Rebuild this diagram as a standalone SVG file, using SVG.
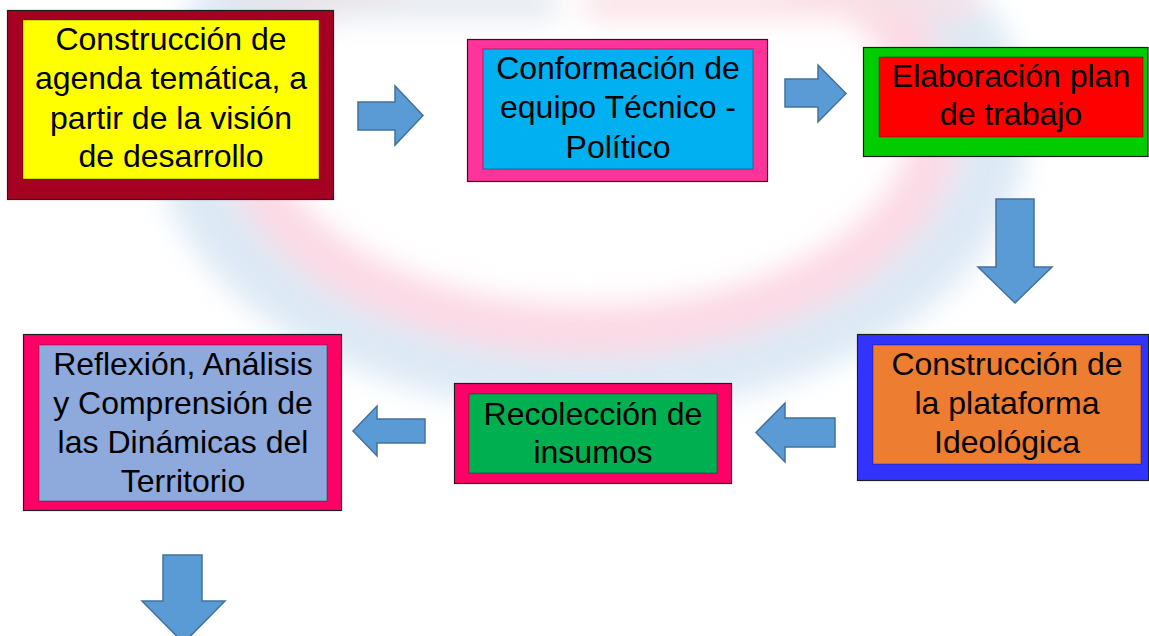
<svg xmlns="http://www.w3.org/2000/svg" width="1149" height="636" viewBox="0 0 1149 636">
<defs>
<filter id="soft" x="-20%" y="-20%" width="140%" height="140%"><feGaussianBlur stdDeviation="14"/></filter>
</defs>
<style>
.outer{stroke:#1e1e1e;stroke-width:1.2}
.inner{stroke-width:1;stroke-opacity:0.35;stroke:#000}
.lbl{font-family:"Liberation Sans",Arial,sans-serif;font-size:32px;fill:#000;text-anchor:middle}
.arrow{fill:#5B9BD5;stroke:#41719C;stroke-width:1.5;stroke-linejoin:miter}
</style>
<rect width="1149" height="636" fill="#ffffff"/>
<g id="watermark" opacity="0.4" filter="url(#soft)">
<ellipse cx="590" cy="125" rx="405" ry="255" fill="none" stroke="#a9c9e6" stroke-width="65"/>
<ellipse cx="590" cy="125" rx="345" ry="205" fill="none" stroke="#f7a3bd" stroke-width="50"/>
<rect x="212" y="-10" width="344" height="28" fill="#b8c2d2"/>
<rect x="585" y="-10" width="392" height="28" fill="#f0b0c0"/>
</g>
<g id="connectors">
<polygon class="arrow" points="358,102 395,102 395,86 423,115.5 395,145 395,130 358,130"/>
<polygon class="arrow" points="785,79 818,79 818,65 846,93.5 818,122 818,107 785,107"/>
<polygon class="arrow" points="996,199 1034,199 1034,267 1052,267 1015,303 978,267 996,267"/>
<polygon class="arrow" points="835,418 785,418 785,403 756,432.5 785,462 785,447 835,447"/>
<polygon class="arrow" points="425,419 377,419 377,406 353,431 377,456 377,443 425,443"/>
<polygon class="arrow" points="163,555 202,555 202,601 225,601 183.5,643 142,601 163,601"/>
</g>
<g id="node1">
<rect class="outer" x="7.5" y="10.5" width="326" height="189" fill="#A50021"/>
<rect class="inner" x="23" y="20" width="296" height="159" fill="#FFFF00"/>
<text class="lbl" x="171" y="50">Construcción de</text>
<text class="lbl" x="171" y="89">agenda temática, a</text>
<text class="lbl" x="171" y="128.5">partir de la visión</text>
<text class="lbl" x="171" y="167">de desarrollo</text>
</g>
<g id="node2">
<rect class="outer" x="467.5" y="39.5" width="300" height="142" fill="#FF3399"/>
<rect class="inner" x="483" y="49" width="270" height="120" fill="#00B0F0"/>
<text class="lbl" x="618" y="79">Conformación de</text>
<text class="lbl" x="618" y="118">equipo Técnico -</text>
<text class="lbl" x="618" y="157.5">Político</text>
</g>
<g id="node3">
<rect class="outer" x="863.5" y="47.5" width="284.5" height="109" fill="#00CC00"/>
<rect class="inner" x="879" y="57" width="264" height="80" fill="#FF0000"/>
<text class="lbl" x="1011" y="87">Elaboración plan</text>
<text class="lbl" x="1011" y="125">de trabajo</text>
</g>
<g id="node4">
<rect class="outer" x="857.5" y="334.5" width="291" height="146" fill="#3333FF"/>
<rect class="inner" x="873" y="345" width="268" height="119" fill="#ED7D31"/>
<text class="lbl" x="1007" y="375">Construcción de</text>
<text class="lbl" x="1007" y="414">la plataforma</text>
<text class="lbl" x="1007" y="453">Ideológica</text>
</g>
<g id="node5">
<rect class="outer" x="454.5" y="383.5" width="277" height="100" fill="#FF0066"/>
<rect class="inner" x="469" y="394" width="248" height="79" fill="#00B050"/>
<text class="lbl" x="593" y="425">Recolección de</text>
<text class="lbl" x="593" y="463">insumos</text>
</g>
<g id="node6">
<rect class="outer" x="23.5" y="334.5" width="318" height="176" fill="#FF0066"/>
<rect class="inner" x="39" y="345" width="288" height="156" fill="#8EA9DB"/>
<text class="lbl" x="183" y="375">Reflexión, Análisis</text>
<text class="lbl" x="183" y="414">y Comprensión de</text>
<text class="lbl" x="183" y="453">las Dinámicas del</text>
<text class="lbl" x="183" y="492">Territorio</text>
</g>
</svg>
